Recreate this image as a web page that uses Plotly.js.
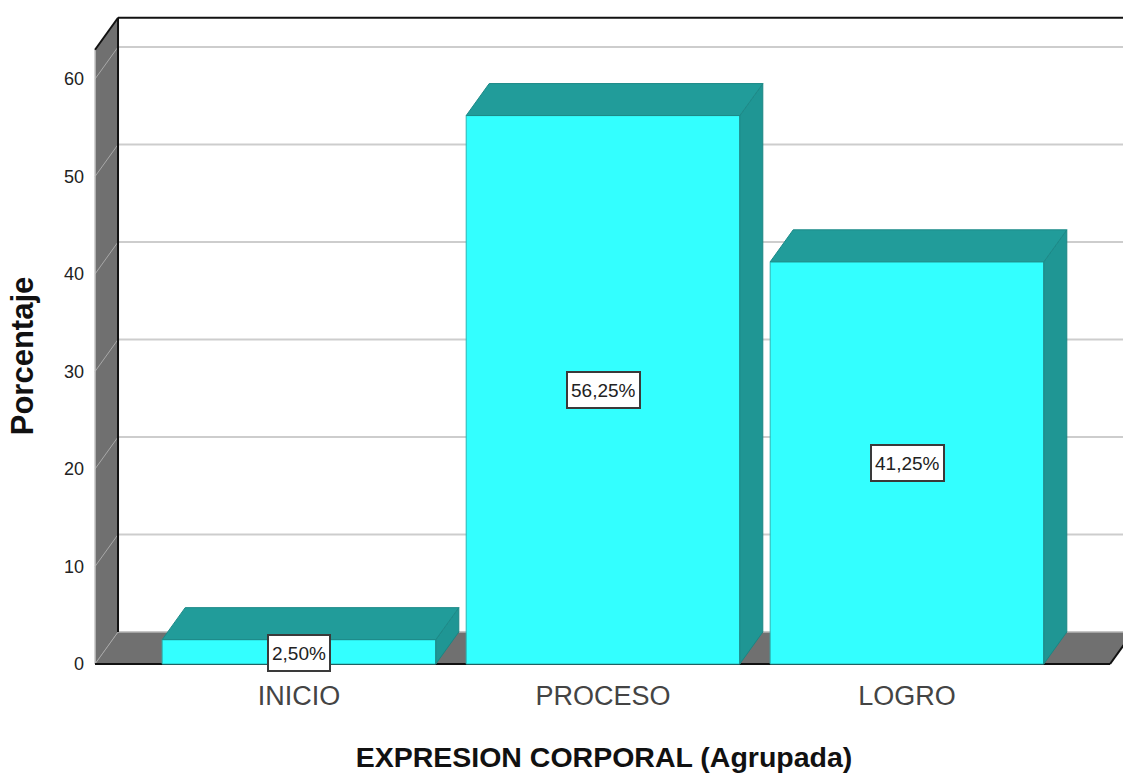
<!DOCTYPE html>
<html>
<head>
<meta charset="utf-8">
<script src="https://cdn.plot.ly/plotly-3.0.1.min.js"></script>
<style>html,body{margin:0;padding:0;background:#fff}</style>
</head>
<body>
<div id="chart" style="width:1123px;height:774px"></div>
<script>
const categories = ["INICIO", "PROCESO", "LOGRO"];
const percentages = [2.5, 56.25, 41.25];
const yTicks = [0, 10, 20, 30, 40, 50, 60];
const yTitle = "<b>Porcentaje</b>";
const xTitle = "<b>EXPRESION CORPORAL (Agrupada)</b>";

const positions = categories.map((c, i) => i);
const barWidth = 0.9;
const depthX = 23 / 304;
const depthY = 32 / 9.75;
const wallTop = 63;
const xLeft = -0.671, xRight = 2.668, xEdge = 2.72;
const fmt = v => v.toFixed(2).replace(".", ",") + "%";

const gray = "#707070", gridC = "#cdcdcd";
const topC = "#219c9a", sideC = "#1f9694", frontC = "#33ffff";
const poly = (pts, fill, line, w, extra) => Object.assign({
  type: "path", xref: "x", yref: "y", layer: "below",
  path: "M" + pts.map(p => p[0] + "," + p[1]).join("L") + "Z",
  fillcolor: fill, line: {color: line || fill, width: w === undefined ? 0 : w}
}, extra || {});
const seg = (x0, y0, x1, y1, c, w) => ({
  type: "line", xref: "x", yref: "y", layer: "below",
  x0, y0, x1, y1, line: {color: c, width: w}
});

const shapes = [];
yTicks.slice(1).forEach(t => shapes.push(seg(xLeft + depthX, t + depthY, xEdge, t + depthY, gridC, 2)));
shapes.push(poly([[xLeft, 0], [xLeft + depthX, depthY], [xRight + depthX, depthY], [xRight, 0]], gray));
shapes.push(seg(xLeft + depthX, depthY, xEdge, depthY, "#b5b5b5", 1.5));
shapes.push(poly([[xLeft, 0], [xLeft, wallTop], [xLeft + depthX, wallTop + depthY], [xLeft + depthX, depthY]], gray));
yTicks.forEach(t => shapes.push(seg(xLeft, t, xLeft + depthX, t + depthY, "#a8a8a8", 1)));
shapes.push(seg(xLeft, 0, xLeft, wallTop, "#c4c4c4", 1.5));
shapes.push(seg(xLeft, wallTop, xLeft + depthX, wallTop + depthY, "#111", 2));
shapes.push(seg(xLeft + depthX, depthY, xLeft + depthX, wallTop + depthY, "#111", 2));
shapes.push(seg(xLeft + depthX, wallTop + depthY, xEdge, wallTop + depthY, "#111", 2));
shapes.push(seg(xLeft, 0, xRight, 0, "#111", 2));
shapes.push(seg(xRight, 0, xRight + depthX, depthY, "#111", 2));

const topX = [], topY = [], sideX = [], sideY = [];
percentages.forEach((v, i) => {
  const l = positions[i] - barWidth / 2, r = positions[i] + barWidth / 2;
  topX.push(l, l + depthX, r + depthX, r, l, null);
  topY.push(v, v + depthY, v + depthY, v, v, null);
  sideX.push(r, r + depthX, r + depthX, r, r, null);
  sideY.push(0, depthY, v + depthY, v, 0, null);
});

const traces = [
  {type: "bar", x: positions, y: percentages, width: barWidth,
   marker: {color: frontC, line: {color: "#2bb5b5", width: 1}},
   hoverinfo: "x+y", showlegend: false},
  {type: "scatter", mode: "lines", x: sideX, y: sideY, fill: "toself",
   fillcolor: sideC, line: {color: "#1b8583", width: 1}, hoverinfo: "skip", showlegend: false},
  {type: "scatter", mode: "lines", x: topX, y: topY, fill: "toself",
   fillcolor: topC, line: {color: "#1d8a88", width: 1}, hoverinfo: "skip", showlegend: false}
];

const annotations = percentages.map((v, i) => ({
  x: positions[i], y: v / 2 - (v < 5 ? 0.1 : 0), xref: "x", yref: "y",
  text: fmt(v), showarrow: false, height: 28,
  font: {family: "Liberation Sans", size: 19, color: "#222"},
  bgcolor: "#fff", bordercolor: "#3a3a3a", borderwidth: 2, borderpad: 3
}));

// plot area reaches below the floor so the vertical axis title centres where the original has it
const plotTop = 10, plotBottom = 702, zeroPx = 664, pxPerUnit = 9.75, axisPx = 673;
const layout = {
  width: 1123, height: 774,
  margin: {l: 85, r: 0, t: plotTop, b: 774 - plotBottom},
  paper_bgcolor: "#fff", plot_bgcolor: "#fff",
  showlegend: false,
  font: {family: "Liberation Sans", color: "#222"},
  xaxis: {
    type: "linear", range: [(85 - 299) / 304, (1123 - 299) / 304],
    anchor: "free", position: (plotBottom - axisPx) / (plotBottom - plotTop),
    tickmode: "array", tickvals: positions, ticktext: categories,
    ticks: "", showgrid: false, zeroline: false, showline: false,
    ticklabelstandoff: 4,
    tickfont: {size: 27, color: "#444"},
    title: {text: xTitle, font: {size: 28.5, color: "#111"}, standoff: 37}
  },
  yaxis: {
    range: [(zeroPx - plotBottom) / pxPerUnit, (zeroPx - plotTop) / pxPerUnit],
    tickmode: "array", tickvals: yTicks,
    ticks: "", showgrid: false, zeroline: false, showline: false,
    tickfont: {size: 18, color: "#222"},
    title: {text: yTitle, font: {size: 31, color: "#111"}, standoff: 21}
  },
  shapes, annotations
};

Plotly.newPlot("chart", traces, layout, {displayModeBar: false, staticPlot: true});
</script>
</body>
</html>
